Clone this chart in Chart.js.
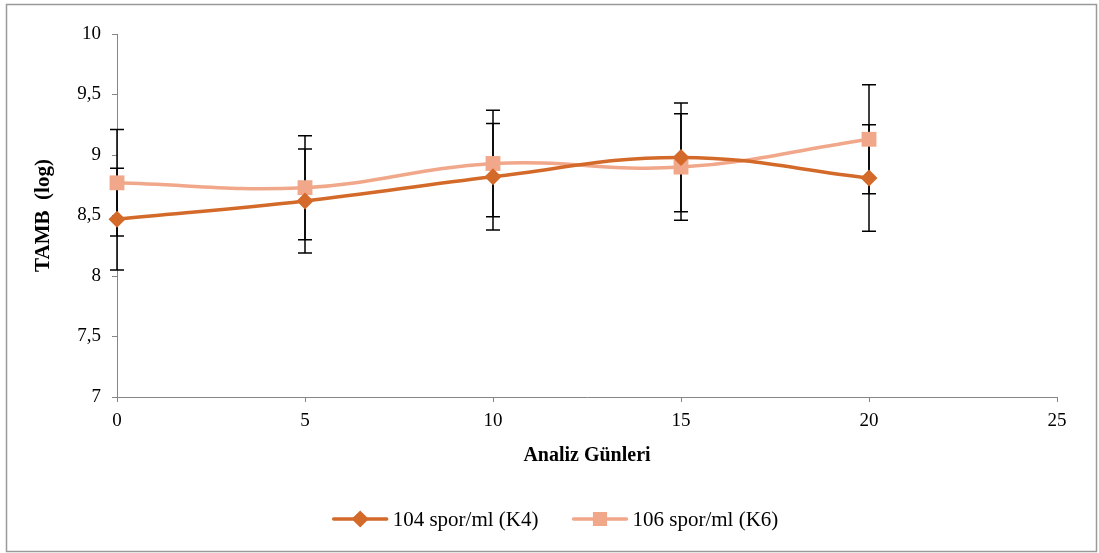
<!DOCTYPE html>
<html><head><meta charset="utf-8">
<script src="https://cdn.jsdelivr.net/npm/chart.js@4/dist/chart.umd.min.js"></script>
<style>html,body{margin:0;padding:0;background:#fff;} #wrap{width:1099px;height:553px;}</style>
</head><body><div id="wrap"><canvas id="c" width="1099" height="553"></canvas></div>
<script>
const days = [0, 5, 10, 15, 20];
const k4Values = [8.47, 8.62, 8.82, 8.98, 8.81];
const k4Errors = [0.42, 0.43, 0.44, 0.45, 0.44];
const k6Values = [8.77, 8.73, 8.93, 8.90, 9.13];
const k6Errors = [0.44, 0.43, 0.44, 0.44, 0.45];
const seriesLabels = ['104 spor/ml (K4)', '106 spor/ml (K6)'];
const xTicks = [0, 5, 10, 15, 20, 25];
const yTicks = [7, 7.5, 8, 8.5, 9, 9.5, 10];
const xTitle = 'Analiz Günleri';
const yTitle = 'TAMB  (log)';

const C4 = '#D36A2A';
const C6 = '#F1A789';
const AXIS = '#868686';
const FONT = "'Liberation Serif', 'Times New Roman', serif";

const errorBars = {
  id: 'errorBars',
  beforeDatasetsDraw(chart) {
    const ctx = chart.ctx, xs = chart.scales.x, ys = chart.scales.y;
    ctx.save();
    ctx.strokeStyle = '#000';
    ctx.lineWidth = 1.5;
    chart.data.datasets.forEach(ds => {
      ds.data.forEach((p, i) => {
        const e = ds.errors[i];
        const x = xs.getPixelForValue(p.x);
        const y1 = ys.getPixelForValue(p.y + e), y2 = ys.getPixelForValue(p.y - e);
        ctx.beginPath();
        ctx.moveTo(x, y1); ctx.lineTo(x, y2);
        ctx.moveTo(x - 7, y1); ctx.lineTo(x + 7, y1);
        ctx.moveTo(x - 7, y2); ctx.lineTo(x + 7, y2);
        ctx.stroke();
      });
    });
    ctx.restore();
  }
};

const frame = {
  id: 'frame',
  beforeDraw(chart) {
    const ctx = chart.ctx;
    ctx.save(); ctx.fillStyle = '#fff'; ctx.fillRect(0, 0, chart.width, chart.height); ctx.restore();
  },
  afterDraw(chart) {
    const ctx = chart.ctx;
    ctx.save();
    ctx.strokeStyle = '#9a9a9a'; ctx.lineWidth = 1.5;
    ctx.strokeRect(6.5, 4.5, 1090, 547);
    // legend
    ctx.font = '21px ' + FONT;
    ctx.textBaseline = 'middle';
    ctx.fillStyle = '#000';
    const lineLen = 53, gapT = 6, gapItems = 35, cy = 519, cx = 556;
    const ws = chart.data.datasets.map(d => ctx.measureText(d.label).width);
    const total = ws.reduce((a, w) => a + lineLen + gapT + w, 0) + gapItems;
    let x = cx - total / 2;
    chart.data.datasets.forEach((d, i) => {
      ctx.strokeStyle = d.borderColor; ctx.lineWidth = 3.5; ctx.lineCap = 'round';
      ctx.beginPath(); ctx.moveTo(x, cy); ctx.lineTo(x + lineLen, cy); ctx.stroke();
      Chart.helpers.drawPoint(ctx, {pointStyle: d.pointStyle, radius: d.pointRadius * 0.72, borderWidth: 1, rotation: 0},
        x + lineLen / 2, cy);
      ctx.fillStyle = d.borderColor; ctx.fill();
      ctx.fillStyle = '#000';
      ctx.fillText(d.label, x + lineLen + gapT, cy + 1);
      x += lineLen + gapT + ws[i] + gapItems;
    });
    ctx.restore();
  }
};

new Chart(document.getElementById('c'), {
  type: 'line',
  data: {
    datasets: [
      { label: seriesLabels[0], data: days.map((d, i) => ({x: d, y: k4Values[i]})), errors: k4Errors,
        borderColor: C4, backgroundColor: C4, borderWidth: 3.5, tension: 0.4, clip: false,
        pointStyle: 'rectRot', pointRadius: 8.5, pointBorderWidth: 0, pointHoverRadius: 8.5 },
      { label: seriesLabels[1], data: days.map((d, i) => ({x: d, y: k6Values[i]})), errors: k6Errors,
        borderColor: C6, backgroundColor: C6, borderWidth: 3.5, tension: 0.4, clip: false,
        pointStyle: 'rect', pointRadius: 10.5, pointBorderWidth: 0, pointHoverRadius: 10.5 }
    ]
  },
  options: {
    responsive: false, animation: false,
    layout: { padding: { top: 34, left: 0, right: 42, bottom: 0 } },
    plugins: { legend: { display: false }, tooltip: { enabled: false } },
    scales: {
      x: {
        type: 'linear', min: 0, max: 25,
        afterBuildTicks: s => { s.ticks = xTicks.map(v => ({value: v})); },
        afterFit: s => { s.height = 156; },
        grid: { display: true, drawOnChartArea: false, drawTicks: true, tickLength: 5, color: AXIS },
        border: { color: AXIS, width: 1 },
        ticks: { color: '#000', font: { family: FONT, size: 19 }, padding: 8, maxRotation: 0 },
        title: { display: true, text: xTitle, color: '#000', font: { family: FONT, size: 20, weight: 'bold' },
                 padding: { top: 0, bottom: 85 } }
      },
      y: {
        type: 'linear', min: 7, max: 10,
        afterBuildTicks: s => { s.ticks = yTicks.map(v => ({value: v})); },
        afterFit: s => { s.width = 117; },
        grid: { display: true, drawOnChartArea: false, drawTicks: true, tickLength: 5, color: AXIS },
        border: { color: AXIS, width: 1 },
        ticks: { color: '#000', font: { family: FONT, size: 19 }, padding: 11,
                 callback: v => String(v).replace('.', ',') },
        title: { display: true, text: yTitle, color: '#000', font: { family: FONT, size: 21, weight: 'bold' },
                 padding: { top: 31, bottom: 0 } }
      }
    }
  },
  plugins: [errorBars, frame]
});
</script></body></html>
